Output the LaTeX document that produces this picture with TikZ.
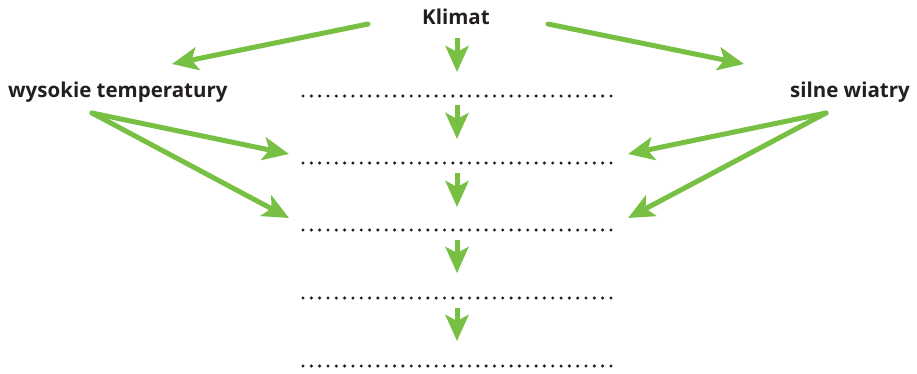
\documentclass[tikz,border=0pt]{standalone}
\usepackage{fontspec}
\setmainfont{Open Sans}
\usetikzlibrary{arrows.meta}
\definecolor{arrgreen}{HTML}{77C043}
\definecolor{txt}{HTML}{231F20}
\tikzset{
  garrow/.style={draw=arrgreen, line width=5pt, line cap=round,
    -{Stealth[length=26pt, width=23pt, inset=6pt, fill=arrgreen]}},
  lbl/.style={text=txt, font=\bfseries\fontsize{20.5}{24}\selectfont, inner sep=0pt},
  dotrow/.style={draw=txt, line width=3.4pt, line cap=round, dash pattern=on 0pt off 8.324pt}
}
\begin{document}
\begin{tikzpicture}[x=1pt, y=-1pt]
\useasboundingbox (0,0) rectangle (917,373);
\node[lbl] (klimat) at (456,17) {Klimat};
\node[lbl, anchor=west] (wys) at (8,92) {wysokie temperatury};
\node[lbl, anchor=east] (silne) at (910,92) {silne wiatry};
% dotted rows
\foreach \i/\y in {1/96,2/163,3/230,4/298,5/366}{
  \coordinate (r\i a) at (303,\y);
  \coordinate (r\i b) at (611,\y);
  \draw[dotrow] (r\i a) -- (r\i b);
}
% arrow endpoints
\coordinate (kL) at (368,24);
\coordinate (kR) at (548,24);
\coordinate (wysT) at (172,64);
\coordinate (silT) at (744,64);
\coordinate (wysS) at (92,113);
\coordinate (silS) at (826,113);
\coordinate (w2) at (289,154);
\coordinate (w3) at (289,218);
\coordinate (s2) at (628,154);
\coordinate (s3) at (628,218);
\draw[garrow] (kL) -- (wysT);
\draw[garrow] (kR) -- (silT);
\draw[garrow] (wysS) -- (w2);
\draw[garrow] (wysS) -- (w3);
\draw[garrow] (silS) -- (s2);
\draw[garrow] (silS) -- (s3);
% vertical arrows
\foreach \i/\a/\b in {1/38/72,2/105/139,3/173/207,4/240/273,5/308/341}{
  \coordinate (v\i s) at (457,\a);
  \coordinate (v\i e) at (457,\b);
  \draw[garrow, line cap=butt] (v\i s) -- (v\i e);
}
\end{tikzpicture}
\end{document}
